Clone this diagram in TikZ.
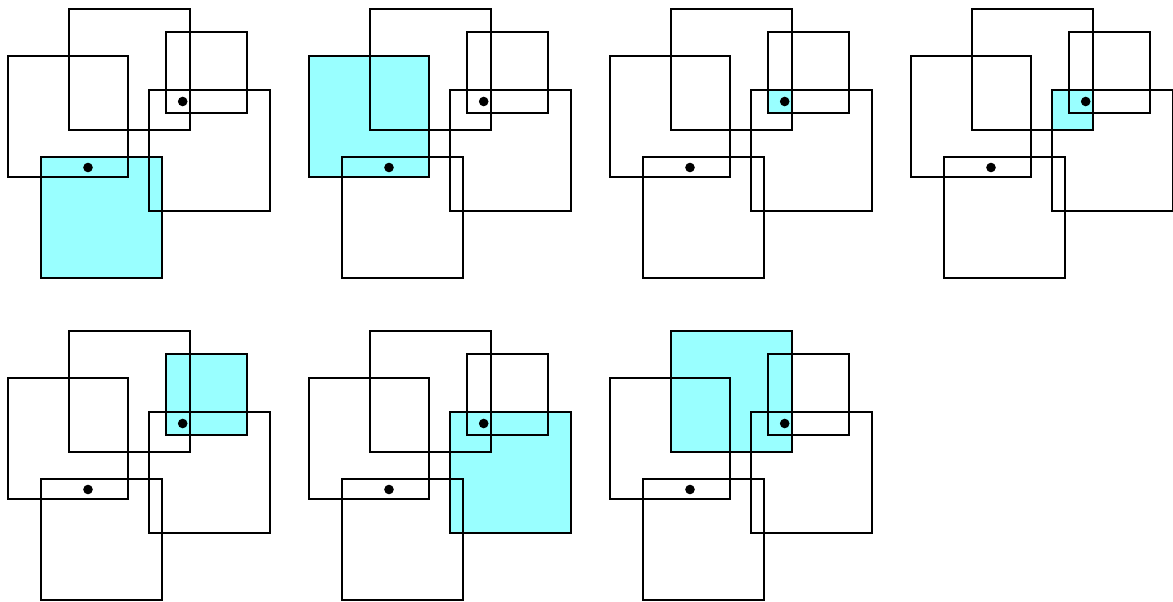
\documentclass[tikz,border=0pt]{standalone}
\definecolor{hl}{RGB}{153,255,255}
\newcommand\SqA{(69,9) rectangle (190,130)}
\newcommand\SqB{(8,56) rectangle (128,177)}
\newcommand\SqC{(166,32) rectangle (247,113)}
\newcommand\SqD{(149,90) rectangle (270,211)}
\newcommand\SqE{(41,157) rectangle (162,278)}
\newcommand\Panel[3]{%
  \begin{scope}[shift={(#1,#2)}]
    #3
    \draw[sq] \SqA;
    \draw[sq] \SqB;
    \draw[sq] \SqC;
    \draw[sq] \SqD;
    \draw[sq] \SqE;
    \fill[dotst] (182.7,101.5) circle (4.8);
    \fill[dotst] (88,167.5) circle (4.8);
  \end{scope}}
\begin{document}
\begin{tikzpicture}[x=1pt,y=-1pt,
  sq/.style={draw=black,line width=2.2pt,line join=miter},
  hlf/.style={fill=hl},
  dotst/.style={fill=black}]
\useasboundingbox (0,0) rectangle (1173,602);
\Panel{0}{0}{\fill[hlf] \SqE;}
\Panel{301}{0}{\fill[hlf] \SqB;}
\Panel{602}{0}{\begin{scope}\clip \SqA; \clip \SqC; \fill[hlf] \SqD;\end{scope}}
\Panel{903}{0}{\begin{scope}\clip \SqA; \fill[hlf] \SqD;\end{scope}}
\Panel{0}{322}{\fill[hlf] \SqC;}
\Panel{301}{322}{\fill[hlf] \SqD;}
\Panel{602}{322}{\fill[hlf] \SqA;}
\end{tikzpicture}
\end{document}
